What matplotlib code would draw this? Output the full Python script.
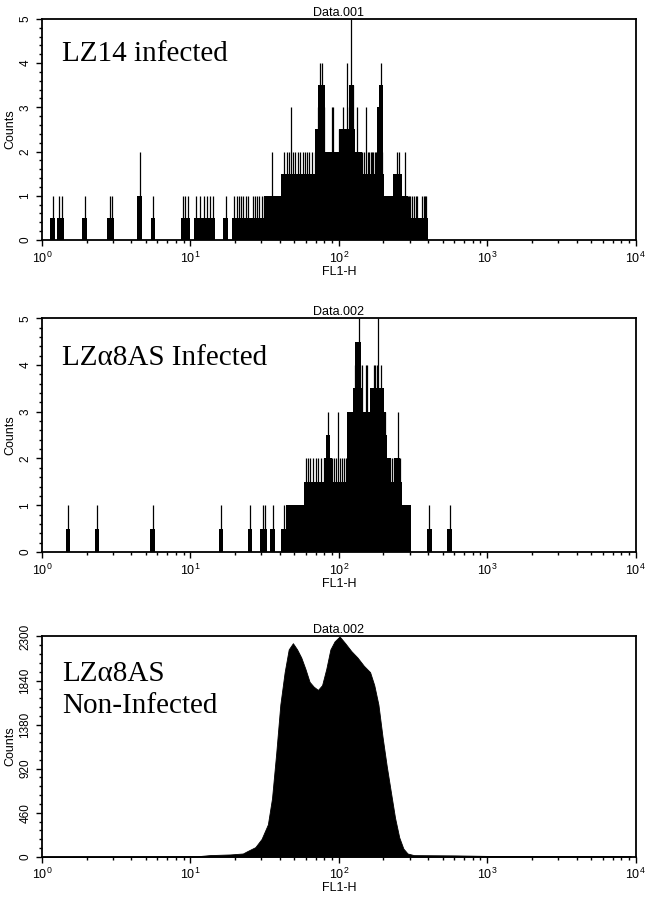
import numpy as np
import matplotlib
matplotlib.use("Agg")
import matplotlib.pyplot as plt
from matplotlib.ticker import MultipleLocator, LogLocator

plt.rcParams['font.family'] = ['Liberation Sans', 'DejaVu Sans']

# panel 1: LZ14 infected (FL1-H position, spike count, smoothed base level)
p1_pos = [1.18, 1.31, 1.36, 1.94, 2.86, 2.97, 4.55, 5.6,
          8.9, 9.2, 9.6, 11.0, 11.6, 12.3, 13.0, 13.6, 14.2, 17.3,
          19.8, 20.5, 21.2, 22.0, 22.8, 23.6, 24.5,
          26.3, 27.2, 28.2, 29.2, 30.2, 31.3,
          32.4, 33.6, 34.6, 35.7, 36.9, 38.2, 39.6, 41.0,
          42.5, 44.5, 46.0, 47.8, 49.5, 51.0, 53.0, 55.0, 57.0, 59.0, 61.0, 63.5, 66.5, 69.0,
          72.0, 75.3, 77.5, 79.5,
          82.0, 84.5, 87.0, 89.5, 92.0, 95.0, 98.0, 100.5,
          104, 106, 109, 113, 117, 121.6, 124.5,
          128, 133.5, 138, 144, 148, 152,
          157, 160, 164, 168, 171, 174.8, 178, 181,
          186, 192.6, 196,
          201, 206, 214, 219, 224, 229, 235,
          241, 247, 253, 259, 265, 272, 278, 284,
          292, 298, 304, 312, 322, 330, 338,
          366, 373, 380, 388]
p1_spike = [1, 1, 1, 1, 1, 1, 2, 1,
            1, 1, 1, 1, 1, 1, 1, 1, 1, 1,
            1, 1, 1, 1, 1, 1, 1,
            1, 1, 1, 1, 1, 1,
            1, 1, 1, 2, 1, 1, 1, 1,
            2, 2, 2, 3, 2, 2, 2, 2, 2, 2, 2, 2, 2, 2,
            3, 4, 4, 3,
            2, 2, 2, 3, 3, 2, 2, 2.5,
            2.5, 3, 2.5, 4, 3, 5, 3.5,
            2, 3, 2, 2, 2, 3,
            2, 2, 2, 2, 2, 2, 2, 2,
            3, 4, 2,
            1, 1, 1, 1, 1, 1, 1,
            1, 2, 2, 1.5, 1, 1, 2, 1,
            1, 1, 1, 1, 1, 1, 1,
            1, 1, 1, 1]
p1_base = [0.5, 0.5, 0.5, 0.5, 0.5, 0.5, 1, 0.5,
           0.5, 0.5, 0.5, 0.5, 0.5, 0.5, 0.5, 0.5, 0.5, 0.5,
           0.5, 0.5, 0.5, 0.5, 0.5, 0.5, 0.5,
           0.5, 0.5, 0.5, 0.5, 0.5, 0.5,
           1, 1, 1, 1, 1, 1, 1, 1,
           1.5, 1.5, 1.5, 1.5, 1.5, 1.5, 1.5, 1.5, 1.5, 1.5, 1.5, 1.5, 1.5, 1.5,
           2.5, 3.5, 3.5, 2,
           2, 2, 2, 2, 2, 2, 2, 2,
           2.5, 2.5, 2.5, 2.5, 2.5, 3.5, 2.5,
           2, 2, 2, 1.5, 1.5, 1.5,
           1.5, 1.5, 1.5, 1.5, 1.5, 1.5, 1.5, 1.5,
           3, 3.5, 1.5,
           1, 1, 0.5, 1, 0.5, 0.5, 1,
           1.5, 1.5, 1.5, 1.5, 1, 1, 1, 1,
           0.5, 0.5, 0.5, 0.5, 0.5, 0.5, 0.5,
           0.5, 0.5, 0.5, 0.5]

# panel 2: LZa8AS infected
p2_pos = [1.50, 2.35, 5.58, 16.1, 25.3, 30.7, 31.7, 35.9, 42.5,
          45.8, 47.7, 50.2, 52.7, 55.1, 57.6,
          60.5, 62.5, 64.5, 67, 70, 73, 76, 79, 82, 84.3, 87, 90, 93, 96, 98.9,
          102, 105, 108, 111, 114,
          118, 121, 125, 129, 133, 136.5, 140, 144, 148, 152, 155.6, 159,
          164, 168, 172, 176, 180, 183, 188, 194, 200, 205,
          211, 217, 223, 229, 236, 244, 251, 258,
          266, 274, 283, 292, 298,
          408, 557]
p2_spike = [1, 1, 1, 1, 1, 1, 1, 1, 1,
            1, 1, 1, 1, 1, 1,
            2, 2, 2, 2, 2, 2, 2, 2, 2, 3, 2, 2, 2, 2, 3,
            2, 2, 2, 2, 2,
            3, 3, 3, 4, 4.5, 5, 4, 4, 3, 4, 4, 3,
            3, 3, 4, 4, 4, 5, 3.5, 4, 3, 3,
            2, 2, 2, 2, 2, 2, 3, 2,
            1, 1, 1, 1, 1,
            1, 1]
p2_base = [0.5, 0.5, 0.5, 0.5, 0.5, 0.5, 0.5, 0.5, 0.5,
           1, 1, 1, 1, 1, 1,
           1.5, 1.5, 1.5, 1.5, 1.5, 1.5, 1.5, 1.5, 2, 2.5, 2, 1.5, 1.5, 1.5, 1.5,
           1.5, 1.5, 1.5, 1.5, 1.5,
           3, 3, 3, 3.5, 4.5, 4.5, 3.5, 3, 3, 3, 3, 2,
           2.5, 3.5, 3.5, 3.5, 3.5, 3.5, 3.5, 3.5, 3, 2.5,
           1.5, 2, 1.5, 1.5, 1.5, 2, 2, 1.5,
           1, 1, 1, 1, 1,
           0.5, 0.5]

# panel 3: LZa8AS non-infected (smooth profile)
p3_pos = [1.0, 11.1, 13.5, 18.6, 22.6, 24.1, 27.4, 30.2, 33.3, 35.5, 37.9, 40.4,
          43.2, 46.0, 49.1, 52.4, 55.9, 59.6, 63.6, 67.8, 72.4, 77.2, 82.4, 87.8,
          93.7, 101.3, 110.2, 121.4, 133.7, 147.4, 162.5, 173.4, 184.9, 197.2,
          210.4, 224.4, 239.4, 255.4, 272.4, 290.6, 320.4, 612, 1168, 9250]
p3_counts = [0, 5, 17, 24, 34, 57, 100, 186, 338, 609, 1082, 1590,
             1928, 2165, 2230, 2165, 2080, 1962, 1826, 1776, 1742, 1792, 1962, 2165,
             2249, 2300, 2232, 2148, 2080, 1995, 1928, 1792, 1590, 1251,
             947, 676, 406, 203, 85, 34, 17, 14, 7, 7]

fig = plt.figure(figsize=(6.54, 8.99), dpi=100)
left, width = 0.064, 0.908
ax1 = fig.add_axes([left, 0.733, width, 0.246])
ax2 = fig.add_axes([left, 0.386, width, 0.260])
ax3 = fig.add_axes([left, 0.047, width, 0.245])

half = 10 ** (0.03 / 2)


def spiky(ax, pos, spike, base):
    pos = np.array(pos, dtype=float)
    lo = pos / half
    ax.bar(lo, base, width=pos * half - lo, align='edge', color='black', linewidth=0)
    ax.vlines(pos, 0, spike, color='black', linewidth=0.9)


spiky(ax1, p1_pos, p1_spike, p1_base)
spiky(ax2, p2_pos, p2_spike, p2_base)
ax3.fill_between(p3_pos, 0, p3_counts, color='black', linewidth=0.6, edgecolor='black')

titles = ['Data.001', 'Data.002', 'Data.002']
labels = ['LZ14 infected', 'LZ\u03b18AS Infected', 'LZ\u03b18AS\nNon-Infected']
label_y = [0.84, 0.83, 0.755]
for ax, t, lab, ly in zip([ax1, ax2, ax3], titles, labels, label_y):
    ax.set_xscale('log')
    ax.set_xlim(1, 1e4)
    ax.set_title(t, fontsize=9, pad=2)
    ax.set_xlabel('FL1-H', fontsize=9, labelpad=0)
    ax.set_ylabel('Counts', fontsize=9, labelpad=2)
    ax.xaxis.set_minor_locator(LogLocator(base=10, subs=np.arange(2, 10)))
    ax.tick_params(which='both', direction='out', width=1, labelsize=9)
    ax.tick_params(which='major', length=4)
    ax.tick_params(which='minor', length=2.5)
    ax.tick_params(axis='y', labelrotation=90, labelsize=8.5)
    for s in ax.spines.values():
        s.set_linewidth(1.3)
    ax.text(0.034, ly, lab, transform=ax.transAxes, fontsize=21,
            family=['Liberation Serif', 'DejaVu Serif'], va='center', ha='left',
            linespacing=1.3)

for ax in [ax1, ax2]:
    ax.set_ylim(0, 5)
    ax.yaxis.set_major_locator(MultipleLocator(1))
    ax.yaxis.set_minor_locator(MultipleLocator(0.2))

ax3.set_ylim(0, 2300)
ax3.set_yticks([0, 460, 920, 1380, 1840, 2300])
ax3.yaxis.set_minor_locator(MultipleLocator(92))

for ax in [ax1, ax2, ax3]:
    for lbl in ax.get_yticklabels():
        lbl.set_va('center')

fig.savefig('out.png', dpi=100)
